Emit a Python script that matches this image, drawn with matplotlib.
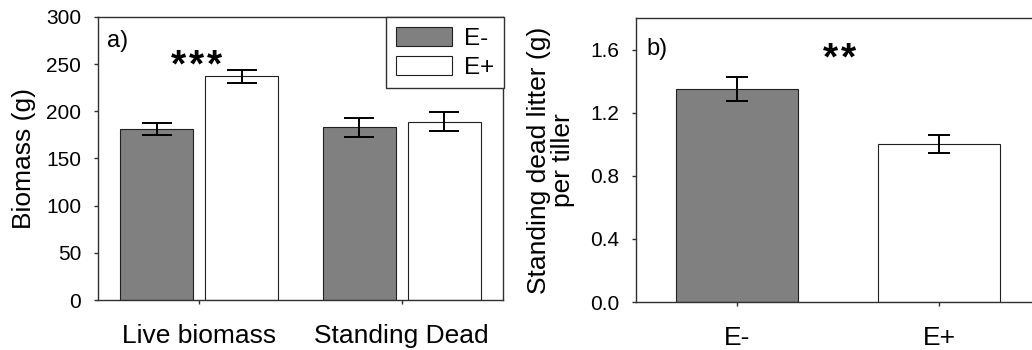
import matplotlib
matplotlib.use("Agg")
import matplotlib.pyplot as plt
from matplotlib.patches import Patch
from matplotlib.transforms import offset_copy
import numpy as np

plt.rcParams['font.family'] = ['Liberation Sans', 'DejaVu Sans']

# Panel a: biomass by fraction and endophyte status
groups = ["Live biomass", "Standing Dead"]
e_minus = [181, 183]
e_minus_se = [6.5, 9.7]
e_plus = [237, 189]
e_plus_se = [6.8, 10.3]

# Panel b: standing dead litter per tiller
status = ["E-", "E+"]
litter = [1.35, 1.00]
litter_se = [0.073, 0.056]

GREY = "#808080"
EDGE = "#202020"
SPINE = "#303030"

fig = plt.figure(figsize=(10.32, 3.5), dpi=100)
W, H = 1032, 350

def px_axes(x0, x1, ytop, ybot):
    return fig.add_axes([x0 / W, 1 - ybot / H, (x1 - x0) / W, (ybot - ytop) / H])

def style(ax):
    for s in ax.spines.values():
        s.set_color(SPINE)
        s.set_linewidth(1.0)
    ax.tick_params(axis='y', direction='out', length=3, width=1, pad=9,
                   labelsize=15, color=SPINE)
    ax.tick_params(axis='x', direction='out', length=3, width=1, pad=14,
                   labelsize=19, color=SPINE)

def stars(ax, xc, yb, n, pitch_pt=13.0):
    # evenly spaced significance asterisks centred on (xc, yb)
    for i in range(n):
        dx = (i - (n - 1) / 2) * pitch_pt
        tr = offset_copy(ax.transData, fig=fig, x=dx, y=0, units='points')
        ax.text(xc, yb, "*", transform=tr, fontsize=28, fontweight='bold',
                ha='center', va='baseline')

# ---- panel a ----
ax1 = px_axes(98, 503, 17, 300)
x = np.arange(len(groups))
off, bw = 0.21, 0.36
ax1.bar(x - off, e_minus, bw, color=GREY, edgecolor=EDGE, linewidth=0.8, zorder=2)
ax1.bar(x + off, e_plus, bw, color="white", edgecolor=EDGE, linewidth=0.8, zorder=2)
ax1.errorbar(x - off, e_minus, yerr=e_minus_se, fmt='none', ecolor='black',
             elinewidth=1.4, capsize=10.5, capthick=1.4, zorder=3)
ax1.errorbar(x + off, e_plus, yerr=e_plus_se, fmt='none', ecolor='black',
             elinewidth=1.4, capsize=10.5, capthick=1.4, zorder=3)
ax1.set_xlim(-0.5, 1.5)
ax1.set_ylim(0, 300)
ax1.set_yticks(np.arange(0, 301, 50))
ax1.set_xticks(x)
ax1.set_xticklabels(groups)
ax1.set_ylabel("Biomass (g)", fontsize=19)
ax1.yaxis.set_label_coords(-0.153, 0.5)
style(ax1)
ax1.text(0.022, 0.915, "a)", transform=ax1.transAxes, fontsize=17,
         ha='left', va='center')
stars(ax1, -0.015, 237, 3)
handles = [Patch(facecolor=GREY, edgecolor=EDGE, linewidth=0.8, label="E-"),
           Patch(facecolor="white", edgecolor=EDGE, linewidth=0.8, label="E+")]
leg = ax1.legend(handles=handles, loc='upper right', bbox_to_anchor=(1.003, 1.0),
                 borderaxespad=0, fontsize=17.5, frameon=True, fancybox=False,
                 edgecolor=SPINE, framealpha=1, handlelength=2.3,
                 handleheight=0.82, handletextpad=0.5, labelspacing=0.25,
                 borderpad=0.4)
leg.get_frame().set_linewidth(1.0)

# ---- panel b ----
ax2 = px_axes(636, 1040, 18, 302)
xb = np.arange(len(status))
ax2.bar(xb, litter, 0.6, color=[GREY, "white"], edgecolor=EDGE, linewidth=0.8, zorder=2)
ax2.errorbar(xb, litter, yerr=litter_se, fmt='none', ecolor='black',
             elinewidth=1.4, capsize=7.8, capthick=1.4, zorder=3)
ax2.set_xlim(-0.5, 1.5)
ax2.set_ylim(0, 1.8)
ax2.set_yticks([0.0, 0.4, 0.8, 1.2, 1.6])
ax2.set_yticklabels(["0.0", "0.4", "0.8", "1.2", "1.6"])
ax2.set_xticks(xb)
ax2.set_xticklabels(status)
ax2.set_ylabel("Standing dead litter (g)\nper tiller", fontsize=19, linespacing=1.0)
ax2.yaxis.set_label_coords(-0.151, 0.5)
style(ax2)
ax2.text(0.025, 0.89, "b)", transform=ax2.transAxes, fontsize=17,
         ha='left', va='center')
stars(ax2, 0.506, 1.475, 2)

fig.savefig("out.png", dpi=100)
